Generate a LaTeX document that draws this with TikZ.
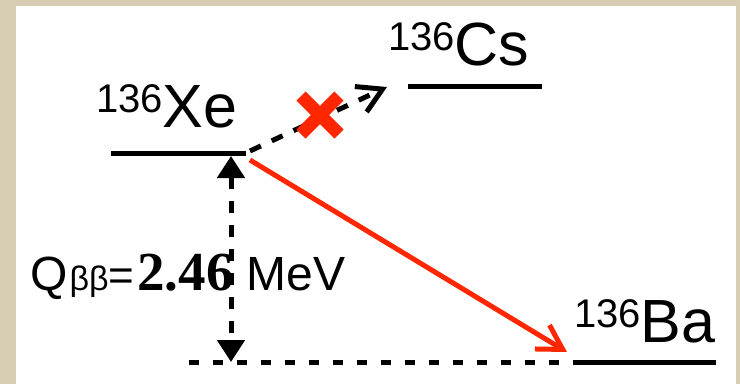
\documentclass[tikz,border=0pt]{standalone}
\usepackage{fontspec}
\setmainfont{Liberation Sans}
\newfontfamily\timesfont{Liberation Serif}
\usetikzlibrary{arrows.meta}
\definecolor{parch}{RGB}{214,205,178}
\definecolor{xred}{RGB}{255,38,0}
\newcommand{\isotope}[2]{{\fontsize{40}{40}\selectfont\raisebox{15pt}{#1}}{\fontsize{61}{61}\selectfont #2}}
\begin{document}
\begin{tikzpicture}[x=1pt,y=-1pt,
  level/.style={line width=5pt},
  label/.style={inner sep=0pt,anchor=base west},
  barb/.style={-{Straight Barb[length=24pt,width=28pt]}},
  dashedarrow/.style={line width=5pt,dash pattern=on 12pt off 12pt},
  redarrow/.style={line width=5pt,xred}
]
\useasboundingbox (0,0) rectangle (740,384);
\fill[parch] (0,0) rectangle (740,384);
\fill[white] (16,6) rectangle (736,384);

% levels
\coordinate (xeL) at (111,153);
\coordinate (xeR) at (246,153);
\coordinate (csL) at (408,86);
\coordinate (csR) at (542,86);
\coordinate (baL) at (582,362);
\coordinate (baR) at (716,362);
\coordinate (zeroL) at (189,362);
\draw[level] (xeL) -- (xeR);
\draw[level] (csL) -- (csR);
\draw[level] (baL) -- (baR);
\draw[level,dash pattern=on 10pt off 14pt] (zeroL) -- (baL);

% labels
\node[label] (xe) at (96,127) {\isotope{136}{Xe}};
\node[label] (cs) at (388,65) {\isotope{136}{Cs}};
\node[label] (ba) at (574,342) {\isotope{136}{Ba}};
\node[label] (q) at (30,290) {\fontsize{48}{48}\selectfont Q{\fontsize{34}{34}\selectfont\kern2pt ββ}{\fontsize{44}{44}\selectfont =}\kern3pt{\timesfont\bfseries\fontsize{55}{55}\selectfont 2.46} MeV};

% transitions
\coordinate (xeCsStart) at (250,151);
\coordinate (csTip) at (387,87);
\coordinate (xeBaStart) at (250,160);
\coordinate (baTip) at (567,352);
\coordinate (qTop) at (231,156);
\coordinate (qBot) at (231,362);
\draw[dashedarrow,barb] (xeCsStart) -- (csTip);
\draw[redarrow,barb] (xeBaStart) -- (baTip);
\draw[line width=5pt,dash pattern=on 12pt off 12pt,{Triangle[length=22pt,width=27pt]}-{Triangle[length=22pt,width=27pt]}] (qTop) -- (qBot);

% forbidden cross
\draw[xred,line width=13pt] (301,96) -- (339,134) (301,134) -- (339,96);
\end{tikzpicture}
\end{document}
